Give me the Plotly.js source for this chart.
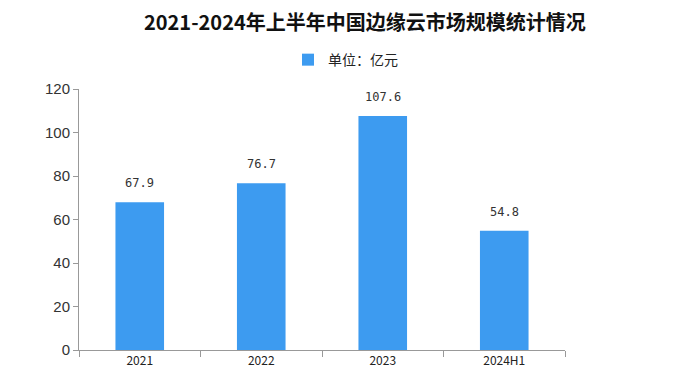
<!DOCTYPE html>
<html><head><meta charset="utf-8">
<script src="https://cdn.plot.ly/plotly-3.0.1.min.js"></script>
<style>body{margin:0;background:#fff}#c{width:699px;height:385px}</style>
</head><body><div id="c"></div>
<script>
const categories = ['2021', '2022', '2023', '2024H1'];
const values = [67.9, 76.7, 107.6, 54.8];
const seriesName = '单位：亿元';
const labels = values.map(v => v.toFixed(1));

const trace = {
  type: 'bar', x: categories, y: values, name: seriesName,
  marker: {color: '#3d9bf0'}, width: 0.4,
  showlegend: true, hoverinfo: 'x+y'
};
const annotations = categories.map((c, i) => ({
  x: i, y: values[i], xref: 'x', yref: 'y', text: labels[i], showarrow: false,
  yanchor: 'bottom', yshift: 10,
  font: {family: 'DejaVu Sans Mono, monospace', size: 12, color: '#333'}
}));
const layout = {
  width: 699, height: 385,
  margin: {l: 79, r: 134, t: 89, b: 35},
  paper_bgcolor: '#fff', plot_bgcolor: '#fff',
  title: {text: '<b>2021-2024年上半年中国边缘云市场规模统计情况</b>', x: 0.522, xanchor: 'center', y: 0.94, yanchor: 'middle',
    font: {family: 'Noto Sans CJK SC', size: 20, color: '#111'}},
  showlegend: true,
  legend: {orientation: 'h', xref: 'container', yref: 'container', x: 0.412, xanchor: 'left', y: 0.844, yanchor: 'middle',
    font: {family: 'Noto Sans CJK SC', size: 14, color: '#222'}, itemwidth: 30},
  annotations: annotations,
  xaxis: {type: 'category', categoryorder: 'array', categoryarray: categories, range: [-0.5, categories.length - 0.5],
    showgrid: false, showline: true, linecolor: '#999', linewidth: 1,
    ticks: 'outside', tickson: 'boundaries', ticklen: 6, tickcolor: '#999',
    tickfont: {family: 'Noto Sans CJK SC', size: 12, color: '#222'}},
  yaxis: {range: [0, 120], dtick: 20, showgrid: false, zeroline: false, showline: true, linecolor: '#999', linewidth: 1,
    ticks: 'outside', ticklen: 5, tickcolor: '#999',
    tickfont: {family: 'Liberation Sans, Arial', size: 15, color: '#333'}}
};
Plotly.newPlot('c', [trace], layout, {displayModeBar: false});
</script></body></html>
